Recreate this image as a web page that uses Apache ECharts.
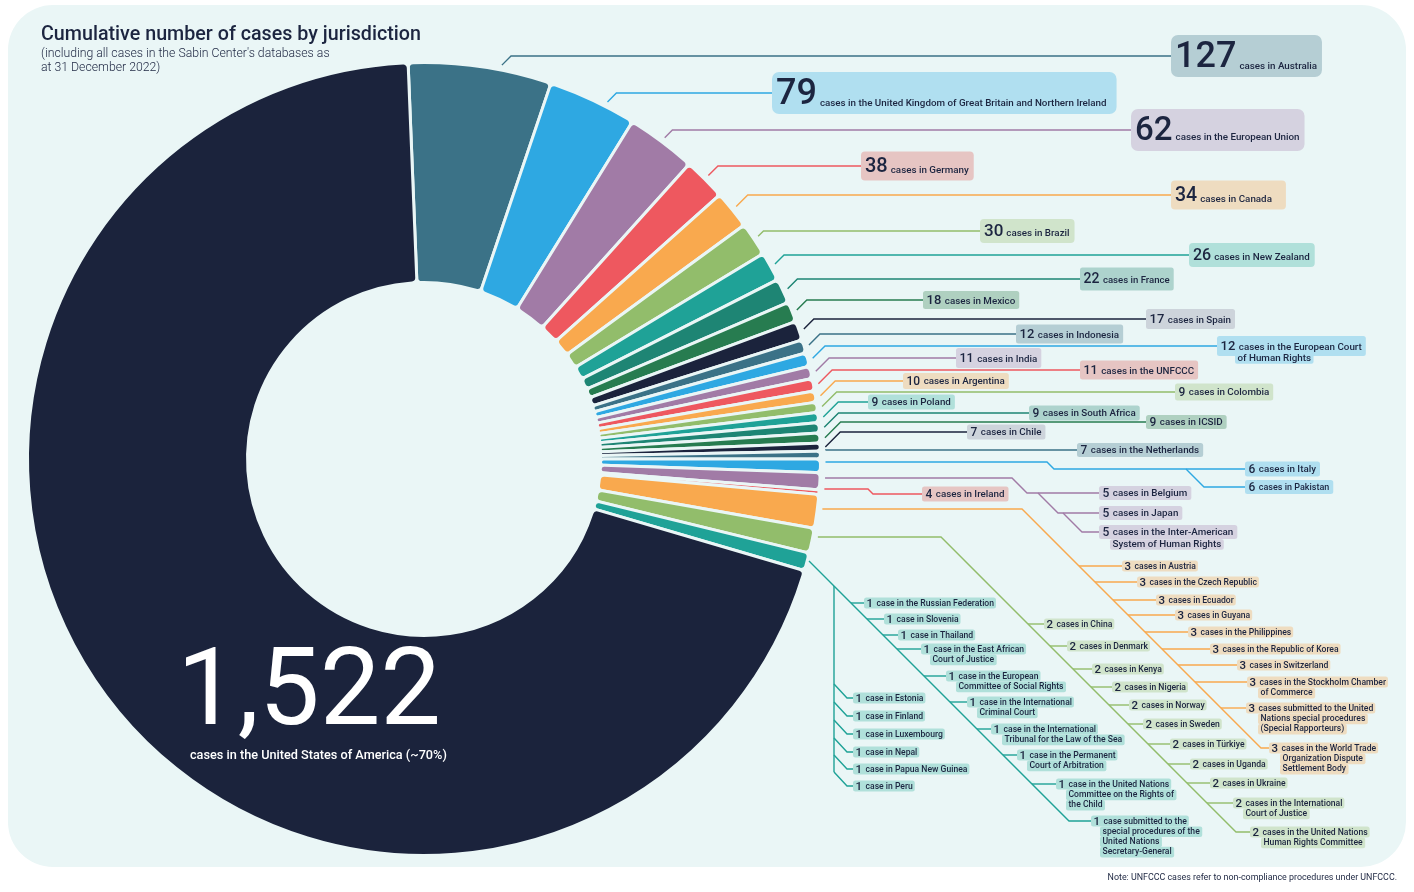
<!DOCTYPE html>
<html>
<head>
<meta charset="utf-8">
<title>Cumulative number of cases by jurisdiction</title>
<script src="https://cdn.jsdelivr.net/npm/echarts@6/dist/echarts.min.js"></script>
<style>
  html, body { margin: 0; padding: 0; background: #fff; }
  #chart { width: 1414px; height: 892px; }
</style>
</head>
<body>
<div id="chart"></div>
<script>
// data
const sliceNames = ['United States of America', 'Australia', 'United Kingdom', 'European Union', 'Germany', 'Canada',
  'Brazil', 'New Zealand', 'France', 'Mexico', 'Spain', 'Indonesia', 'European Court of Human Rights', 'India', 'UNFCCC',
  'Argentina', 'Colombia', 'Poland', 'South Africa', 'ICSID', 'Chile', 'Netherlands', 'Italy and Pakistan',
  'Belgium, Japan and Inter-American System', 'Ireland', 'Jurisdictions with 3 cases', 'Jurisdictions with 2 cases',
  'Jurisdictions with 1 case'];
const sliceValues = [1522, 127, 79, 62, 38, 34, 30, 26, 22, 18, 17, 12, 12, 11, 11, 10, 9, 9, 9, 9, 7, 7, 12, 15, 4, 30, 22, 16];

const labelCounts = [127, 79, 62, 38, 34, 30, 26, 22, 18, 17, 12, 12, 11, 11, 10, 9, 9, 9, 9, 7, 7, 6, 6, 5, 5, 5, 4,
  3, 3, 3, 3, 3, 3, 3, 3, 3, 3,
  2, 2, 2, 2, 2, 2, 2, 2, 2, 2, 2,
  1, 1, 1, 1, 1, 1, 1, 1, 1, 1, 1, 1, 1, 1, 1, 1];
const labelTexts = ['cases in Australia', 'cases in the United Kingdom of Great Britain and Northern Ireland',
  'cases in the European Union', 'cases in Germany', 'cases in Canada', 'cases in Brazil', 'cases in New Zealand',
  'cases in France', 'cases in Mexico', 'cases in Spain', 'cases in Indonesia',
  'cases in the European Court\nof Human Rights', 'cases in India', 'cases in the UNFCCC', 'cases in Argentina',
  'cases in Colombia', 'cases in Poland', 'cases in South Africa', 'cases in ICSID', 'cases in Chile',
  'cases in the Netherlands', 'cases in Italy', 'cases in Pakistan', 'cases in Belgium', 'cases in Japan',
  'cases in the Inter-American\nSystem of Human Rights', 'cases in Ireland',
  'cases in Austria', 'cases in the Czech Republic', 'cases in Ecuador', 'cases in Guyana', 'cases in the Philippines',
  'cases in the Republic of Korea', 'cases in Switzerland', 'cases in the Stockholm Chamber\nof Commerce',
  'cases submitted to the United\nNations special procedures\n(Special Rapporteurs)',
  'cases in the World Trade\nOrganization Dispute\nSettlement Body',
  'cases in China', 'cases in Denmark', 'cases in Kenya', 'cases in Nigeria', 'cases in Norway', 'cases in Sweden',
  'cases in Türkiye', 'cases in Uganda', 'cases in Ukraine', 'cases in the International\nCourt of Justice',
  'cases in the United Nations\nHuman Rights Committee',
  'case in the Russian Federation', 'case in Slovenia', 'case in Thailand', 'case in the East African\nCourt of Justice',
  'case in the European\nCommittee of Social Rights', 'case in the International\nCriminal Court',
  'case in the International\nTribunal for the Law of the Sea', 'case in the Permanent\nCourt of Arbitration',
  'case in the United Nations\nCommittee on the Rights of\nthe Child',
  'case submitted to the\nspecial procedures of the\nUnited Nations\nSecretary-General',
  'case in Estonia', 'case in Finland', 'case in Luxembourg', 'case in Nepal', 'case in Papua New Guinea', 'case in Peru'];

// colours, cycled over the slices
const palette = ['#1b233c', '#3b7287', '#2ea8e2', '#a17ba6', '#ee585f', '#f9a94e', '#92bd6b', '#1fa297', '#1e8574', '#277c50'];
const tints = ['#cdd4db', '#b5ced4', '#b0dff0', '#d5d2e0', '#e6c5c3', '#eedcc0', '#d0e4cb', '#b0e0da', '#add3cd', '#afd0c0'];
const panelColor = '#eaf6f6';
const inkColor = '#1c2540';
const fontName = 'Roboto';

// donut geometry
const cx = 424, cy = 459, outerR = 396.5, innerR = 176.5;
const topAngle = -2.3; // clockwise from 12 o'clock, where Australia starts

// label layout: slice, left, centre y, number size, text size, box height, indent, line pitch
const labelLayout = [
  [1, 1171, 56, 36, 9.8, 42], [2, 772, 93, 36, 9.8, 42], [3, 1131, 130, 33, 9.8, 42], [4, 861, 166, 20, 9.8, 29],
  [5, 1171, 195, 19.5, 9.8, 29], [6, 980, 231, 17, 9.8, 24], [7, 1189, 255, 16, 9.8, 24], [8, 1080, 279, 14, 9.6, 23],
  [9, 923, 300, 13, 9.8, 18], [10, 1146, 319, 13, 9.8, 20], [11, 1016, 334, 13, 9.8, 19],
  [12, 1217, 346, 13, 9.8, 20, 18, 12], [13, 956, 358, 12.5, 9.8, 20], [14, 1080, 370, 12.5, 9.8, 19],
  [15, 903, 381, 12, 9.8, 16], [16, 1175, 392, 12, 9.8, 17], [17, 868, 402, 12, 9.8, 15], [18, 1029, 413, 12, 9.8, 15],
  [19, 1146, 422, 12, 9.8, 14], [20, 967, 432, 12, 9.8, 15], [21, 1077, 450, 12, 9.8, 14], [22, 1245, 469, 12, 9.8, 15],
  [22, 1245, 487, 12, 9, 14], [23, 1099, 493, 12, 9.8, 14], [23, 1099, 513, 12, 9.8, 14],
  [23, 1099, 532, 12, 9.8, 14, 11, 12], [24, 922, 494, 12, 9.8, 15],
  [25, 1122, 566, 11.5, 8.6, 11], [25, 1137, 582, 11.5, 8.6, 11], [25, 1156, 600, 11.5, 8.6, 11], [25, 1175, 615, 11.5, 8.6, 11],
  [25, 1188, 632, 11.5, 8.6, 11], [25, 1210, 649, 11.5, 8.6, 11], [25, 1237, 665, 11.5, 8.6, 11],
  [25, 1247, 682, 11.5, 8.6, 11, 11, 10.6], [25, 1246, 708, 11.5, 8.6, 11, 12, 10.4], [25, 1269, 748, 11.5, 8.6, 11, 11, 10.4],
  [26, 1044, 624, 11.5, 8.6, 11], [26, 1067, 646, 11.5, 8.6, 11], [26, 1092, 669, 11.5, 8.6, 11], [26, 1112, 687, 11.5, 8.6, 11],
  [26, 1129, 705, 11.5, 8.6, 11], [26, 1143, 724, 11.5, 8.6, 11], [26, 1170, 744, 11.5, 8.6, 11], [26, 1190, 764, 11.5, 8.6, 11],
  [26, 1210, 783, 11.5, 8.6, 11], [26, 1233, 803, 11.5, 8.6, 11, 10, 10.4], [26, 1250, 832, 11.5, 8.6, 11, 11, 10.4],
  [27, 864, 603, 11.5, 8.6, 11], [27, 884, 619, 11.5, 8.6, 11], [27, 898, 635, 11.5, 8.6, 11],
  [27, 921, 649, 11.5, 8.6, 11, 9, 10.4], [27, 946, 676, 11.5, 8.6, 11, 10, 10.4], [27, 967, 702, 11.5, 8.6, 11, 10, 10.4],
  [27, 991, 729, 11.5, 8.6, 11, 11, 10.4], [27, 1017, 755, 11.5, 8.6, 11, 10, 10.4], [27, 1056, 784, 11.5, 8.6, 11, 10, 10.4],
  [27, 1091, 821, 11.5, 8.6, 11, 9, 10.2],
  [27, 853, 698, 11.5, 8.6, 11], [27, 853, 716, 11.5, 8.6, 11], [27, 853, 734, 11.5, 8.6, 11], [27, 853, 752, 11.5, 8.6, 11],
  [27, 853, 769, 11.5, 8.6, 11], [27, 853, 786, 11.5, 8.6, 11]
];

// extra room right of the text, by label index, where the reference box runs long
const labelRightPad = { 1: 10, 4: 14 };
// the small text of the European Union label sits higher than its baseline
const labelTextRaise = { 2: 5 };

// leader nudges in degrees, where the reference leaves the slice off-centre
const leaderNudge = { 1: 3, 2: 2, 21: -0.7 };

const total = sliceValues.reduce((a, b) => a + b, 0);

function midAngle(slice) {
  let before = 0;
  for (let i = 1; i < slice; i++) before += sliceValues[i];
  return topAngle + (before + sliceValues[slice] / 2) / total * 360;
}

function leaderLine(points, slice) {
  return {
    type: 'polyline', z: 3, silent: true,
    shape: { points: points },
    style: { stroke: palette[slice % 10], lineWidth: 1.4, fill: null }
  };
}

// point on the ring just outside the slices, at a given height
function ringX(y) {
  const r = outerR + 5;
  return cx + Math.sqrt(r * r - (y - cy) * (y - cy));
}

function buildLeaders() {
  const out = [];
  // single labels, one elbow
  for (let i = 0; i < 21; i++) {
    const [slice, x, y] = labelLayout[i];
    const a = (midAngle(slice) + (leaderNudge[slice] || 0)) * Math.PI / 180;
    const x0 = cx + (outerR + 5) * Math.sin(a), y0 = cy - (outerR + 5) * Math.cos(a);
    out.push(leaderLine([[x0, y0], [x0 + Math.abs(y - y0), y], [x, y]], slice));
  }
  // Italy, Pakistan
  out.push(leaderLine([[ringX(462), 462], [1047, 462], [1054, 469], [1245, 469]], 22));
  out.push(leaderLine([[1186, 469], [1204, 487], [1245, 487]], 22));
  // Belgium, Japan, Inter-American
  out.push(leaderLine([[ringX(478), 478], [1012, 478], [1027, 493], [1099, 493]], 23));
  out.push(leaderLine([[1038, 493], [1058, 513], [1099, 513]], 23));
  out.push(leaderLine([[1063, 513], [1082, 532], [1099, 532]], 23));
  // Ireland
  out.push(leaderLine([[ringX(489), 489], [868, 489], [873, 494], [922, 494]], 24));
  // the three long trunks, each label branching off the 45 degree run
  const trunk = (slice, y0, kneeX, first, last) => {
    const endY = labelLayout[last][2];
    const endX = kneeX + endY - y0;
    out.push(leaderLine([[Math.min(ringX(y0), kneeX), y0], [kneeX, y0], [endX, endY], [labelLayout[last][1], endY]], slice));
    for (let i = first; i < last; i++) {
      const y = labelLayout[i][2];
      out.push(leaderLine([[kneeX + y - y0, y], [labelLayout[i][1], y]], slice));
    }
  };
  trunk(25, 509, 1022, 27, 36);
  trunk(26, 537, 941, 37, 47);
  trunk(27, 561, 809, 48, 57);
  // the straight drop for the last six single cases
  const dropX = 834;
  out.push(leaderLine([[dropX, 586], [dropX, labelLayout[63][2] - 14]], 27));
  for (let i = 58; i < 64; i++) {
    const y = labelLayout[i][2];
    out.push(leaderLine([[dropX, y - 14], [dropX + 13, y], [labelLayout[i][1], y]], 27));
  }
  return out;
}

function buildLabels() {
  const out = [];
  labelCounts.forEach((count, i) => {
    const [slice, x, y, numSize, textSize, boxH, indent, pitch] = labelLayout[i];
    const bg = tints[slice % 10];
    const lines = labelTexts[i].split('\n');
    const radius = numSize > 30 ? 7 : (numSize > 15 ? 4 : 2.5);
    const padX = numSize > 15 ? 4 : (textSize < 9 ? 2.5 : 3.5);
    const padR = labelRightPad[i] || (numSize > 15 ? 5 : (textSize < 9 ? 2 : 4));
    const gap = numSize > 15 ? 3 : 3.5;
    const numLine = Math.min(boxH, numSize * 1.17);
    const padY = (boxH - numLine) / 2;
    // Roboto digits sit a little above the middle of the line box
    const drop = 2 * 0.065 * numSize;
    const textTop = Math.max(0, 0.7 * (numSize - textSize) + drop - 1.2 - (labelTextRaise[i] || 0));
    out.push({
      type: 'text', z: 5, silent: true,
      style: {
        x: x, y: y,
        text: '{n|' + count + '}{t|' + lines[0] + '}',
        verticalAlign: 'middle', align: 'left',
        backgroundColor: bg, borderRadius: radius,
        padding: [padY, padR, padY, padX],
        rich: {
          n: {
            fontFamily: fontName, fontWeight: 500, fontSize: numSize, lineHeight: numLine, fill: inkColor,
            padding: [drop, 0, 0, 0]
          },
          t: {
            fontFamily: fontName, fontWeight: 500, fontSize: textSize, lineHeight: numLine, fill: inkColor,
            // pushes the small text down to the number's baseline
            padding: [textTop, 0, 0, gap]
          }
        }
      }
    });
    for (let k = 1; k < lines.length; k++) {
      out.push({
        type: 'text', z: 5 + k, silent: true,
        style: {
          x: x + indent, y: y + k * pitch + 0.5,
          text: lines[k],
          fontFamily: fontName, fontWeight: 500, fontSize: textSize, lineHeight: 9.6, fill: inkColor,
          verticalAlign: 'middle', align: 'left',
          backgroundColor: bg, borderRadius: 2,
          padding: [0.5, 2.5, 0.5, 2.5]
        }
      });
    }
  });
  return out;
}

const chart = echarts.init(document.getElementById('chart'), null, { renderer: 'canvas' });

chart.setOption({
  animation: false,
  title: {
    text: 'Cumulative number of cases by jurisdiction',
    subtext: '(including all cases in the Sabin Center\'s databases as\nat 31 December 2022)',
    left: 41, top: 25, itemGap: 2, padding: 0,
    textStyle: { fontFamily: fontName, fontWeight: 500, fontSize: 19.7, color: inkColor },
    subtextStyle: { fontFamily: fontName, fontWeight: 300, fontSize: 12.25, lineHeight: 14, color: inkColor }
  },
  series: [{
    type: 'pie',
    center: [cx, cy],
    radius: [innerR, outerR],
    startAngle: 90 - topAngle,
    clockwise: true,
    silent: true,
    label: { show: false },
    labelLine: { show: false },
    itemStyle: { borderRadius: 5, borderColor: panelColor, borderWidth: 3 },
    // the first slice comes last in the list so the ring starts at Australia
    data: sliceNames.map((name, i) => ({
      name: name, value: sliceValues[i],
      itemStyle: { color: palette[i % 10] }
    })).slice(1).concat([{ name: sliceNames[0], value: sliceValues[0], itemStyle: { color: palette[0] } }])
  }],
  graphic: {
    elements: [
      {
        type: 'rect', z: -10, silent: true,
        shape: { x: 8, y: 5, width: 1398, height: 862, r: 45 },
        style: { fill: panelColor }
      },
      ...buildLeaders(),
      ...buildLabels(),
      {
        type: 'text', z: 6, silent: true,
        style: {
          x: 309, y: 697, text: '1,522', align: 'center', verticalAlign: 'middle',
          fontFamily: fontName, fontWeight: 400, fontSize: 108, fill: '#fff'
        }
      },
      {
        type: 'text', z: 6, silent: true,
        style: {
          x: 190, y: 755.5, text: 'cases in the United States of America (~70%)', align: 'left', verticalAlign: 'middle',
          fontFamily: fontName, fontWeight: 500, fontSize: 12.7, fill: '#fff'
        }
      },
      {
        type: 'text', z: 6, silent: true,
        style: {
          x: 1397, y: 878, text: 'Note: UNFCCC cases refer to non-compliance procedures under UNFCCC.', align: 'right', verticalAlign: 'middle',
          fontFamily: fontName, fontSize: 8.9, fill: inkColor
        }
      }
    ]
  }
});
</script>
</body>
</html>
